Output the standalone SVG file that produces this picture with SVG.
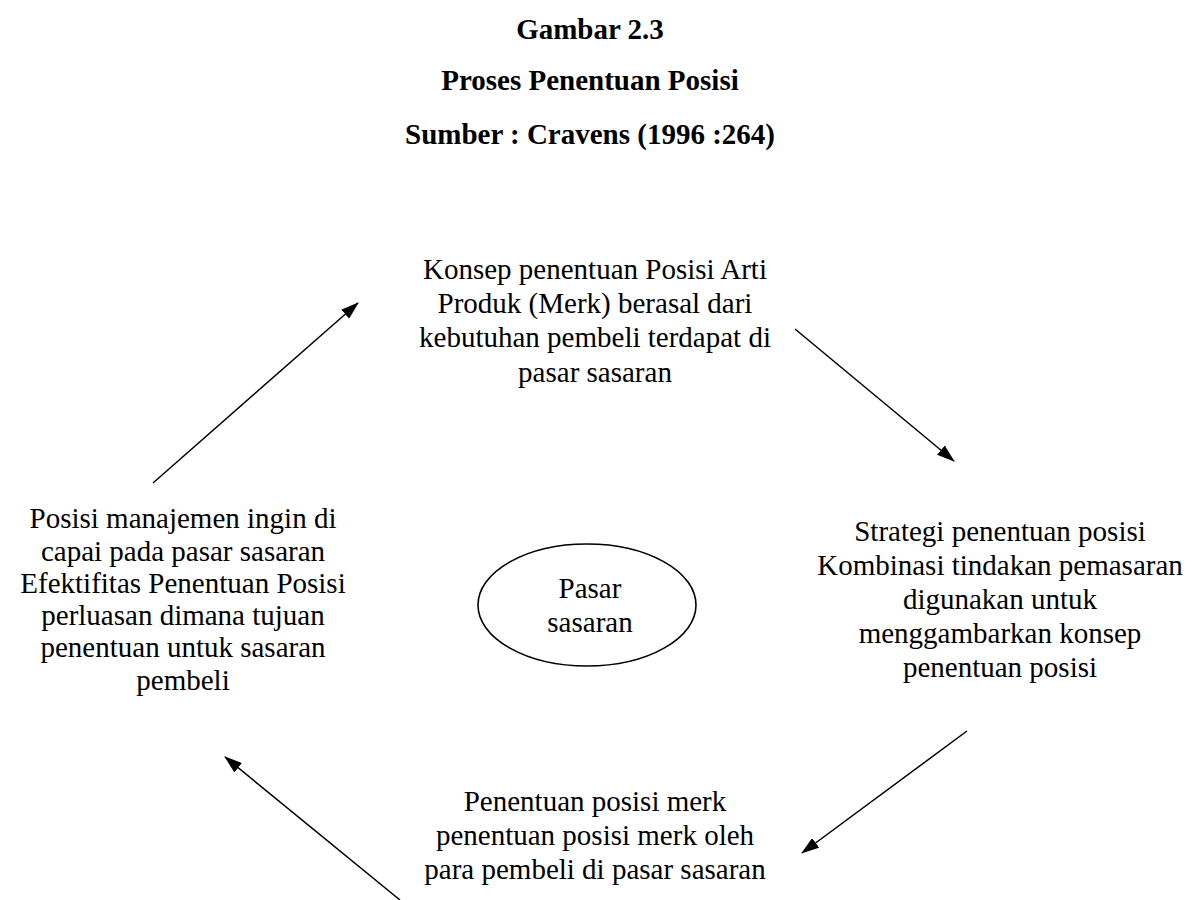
<svg xmlns="http://www.w3.org/2000/svg" width="1196" height="900" viewBox="0 0 1196 900">
<style>
text{font-family:"Liberation Serif","Times New Roman",serif;fill:#000;text-anchor:middle}
.t{font-size:29px;font-weight:bold}
.b{font-size:29px}
.c{stroke:#000;stroke-width:1.5;fill:none;marker-end:url(#ah)}
</style>
<defs>
<marker id="ah" viewBox="0 0 18 12" refX="17" refY="6" markerWidth="18" markerHeight="12" markerUnits="userSpaceOnUse" orient="auto">
<path d="M0,0 L18,6 L0,12 z" fill="#000"/>
</marker>
</defs>
<rect width="1196" height="900" fill="#fff"/>
<g id="title">
<text class="t" x="590" y="39">Gambar 2.3</text>
<text class="t" x="590" y="90">Proses Penentuan Posisi</text>
<text class="t" x="590" y="144">Sumber : Cravens (1996 :264)</text>
</g>
<g id="node-konsep">
<text class="b" x="595" y="279">Konsep penentuan Posisi Arti</text>
<text class="b" x="595" y="313">Produk (Merk) berasal dari</text>
<text class="b" x="595" y="347">kebutuhan pembeli terdapat di</text>
<text class="b" x="595" y="382">pasar sasaran</text>
</g>
<g id="node-strategi">
<text class="b" x="1000" y="541">Strategi penentuan posisi</text>
<text class="b" x="1000" y="575">Kombinasi tindakan pemasaran</text>
<text class="b" x="1000" y="609">digunakan untuk</text>
<text class="b" x="1000" y="643">menggambarkan konsep</text>
<text class="b" x="1000" y="677">penentuan posisi</text>
</g>
<g id="node-penentuan">
<text class="b" x="595" y="811">Penentuan posisi merk</text>
<text class="b" x="595" y="845">penentuan posisi merk oleh</text>
<text class="b" x="595" y="879">para pembeli di pasar sasaran</text>
</g>
<g id="node-posisi">
<text class="b" x="183" y="528">Posisi manajemen ingin di</text>
<text class="b" x="183" y="561">capai pada pasar sasaran</text>
<text class="b" x="183" y="593">Efektifitas Penentuan Posisi</text>
<text class="b" x="183" y="625">perluasan dimana tujuan</text>
<text class="b" x="183" y="657">penentuan untuk sasaran</text>
<text class="b" x="183" y="690">pembeli</text>
</g>
<g id="node-pasar">
<ellipse cx="587" cy="605" rx="109" ry="61" fill="none" stroke="#000" stroke-width="1.6"/>
<text class="b" x="590" y="598">Pasar</text>
<text class="b" x="590" y="632">sasaran</text>
</g>
<g id="connectors">
<line class="c" x1="153" y1="483" x2="358" y2="303"/>
<line class="c" x1="795" y1="329" x2="954" y2="461"/>
<line class="c" x1="967" y1="731" x2="802" y2="853"/>
<line class="c" x1="400" y1="900" x2="225" y2="757"/>
</g>
</svg>
